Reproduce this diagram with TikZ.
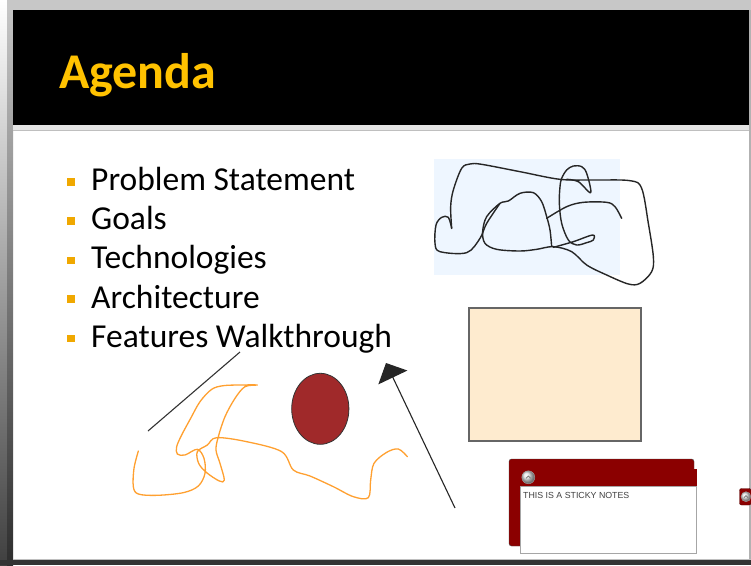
\documentclass[tikz,border=0pt]{standalone}
\usepackage{fontspec}
\setmainfont{Carlito}
\newfontfamily\notefont{Liberation Sans}
\usetikzlibrary{arrows.meta}
\definecolor{titlegold}{RGB}{255,194,0}
\definecolor{bulletgold}{RGB}{240,168,0}
\definecolor{skyfill}{RGB}{238,246,255}
\definecolor{peachfill}{RGB}{254,235,207}
\definecolor{ovalred}{RGB}{160,41,42}
\definecolor{inkorange}{RGB}{255,160,48}
\definecolor{notered}{RGB}{139,0,0}
\begin{document}
\begin{tikzpicture}[x=1pt,y=-1pt,
		item/.style={anchor=base west,inner sep=0pt,font=\fontsize{33.5}{40}\selectfont},
		bul/.style={fill=bulletgold},
		ink/.style={line width=1.4pt,line cap=round,line join=round},
		knob/.style={draw=gray!70,ball color=gray!25}]
				\useasboundingbox (0,0) rectangle (751,565);
				\fill[white] (0,0) rectangle (751,565);
				\shade[top color=white,bottom color=black!75] (0,0) rectangle (7,565);
				\shade[top color=black!22,bottom color=black!82] (7,0) rectangle (13,565);
				\fill[black!22] (7,0) rectangle (751,10);
				\fill[black] (13,10) rectangle (749,125);
				\fill[black!10] (13,125) rectangle (751,131);
				\draw[black!25] (13,130.5) -- (751,130.5);
				\fill[black!30] (749,10) rectangle (751,560);
				\draw[black!25] (13,559) -- (751,559);
				\fill[black!80] (0,560) rectangle (751,565);
				\node[anchor=base west,inner sep=0pt,text=titlegold,font=\fontsize{50}{60}\selectfont\bfseries] (title) at (59,88) {Agenda};
				\fill[bul] (67.3,178) rectangle (75,185.5);
				\fill[bul] (67.3,217) rectangle (75,224.5);
				\fill[bul] (67.3,256.5) rectangle (75,264);
				\fill[bul] (67.3,295) rectangle (75,302.5);
				\fill[bul] (67.3,334.5) rectangle (75,342);
				\node[item] (problem) at (91,190) {Problem Statement};
				\node[item] (goals) at (91,229.5) {Goals};
				\node[item] (tech) at (91,268.5) {Technologies};
				\node[item] (arch) at (91,308) {Architecture};
				\node[item] (walk) at (91,347) {Features Walkthrough};
				\fill[skyfill] (434,159) rectangle (620,275);
				\begin{scope}[shift={(420,140)},scale=1/3]
					\draw[ink,black!85] plot[smooth,tension=0.55] coordinates {(95,265) (92,200) (100,150) (125,85) (150,72) (185,73) (300,95) (420,118) (520,120) (630,122) (665,145) (685,250) (700,350) (695,395) (660,430) (625,432) (560,405) (500,375) (455,335) (400,320) (350,328) (300,333) (230,328) (195,310) (188,275) (200,230) (240,190) (265,183) (300,160) (340,158) (365,185) (380,230) (390,270) (395,320)};
					\draw[ink,black!85] plot[smooth,tension=0.55] coordinates {(380,235) (440,200) (490,187) (560,187) (585,200) (605,235)};
					\draw[ink,black!85] plot[smooth,tension=0.55] coordinates {(400,322) (460,305) (518,285) (520,300) (500,308) (470,315) (445,300) (425,250) (418,190) (420,140) (425,115) (440,90) (460,78) (485,80) (500,100) (512,158) (475,125) (440,118)};
					\draw[ink,black!85] plot[smooth,tension=0.55] coordinates {(95,265) (85,232) (65,232) (48,255) (45,310) (60,335) (140,338) (180,295) (200,250) (240,190)};
				\end{scope}
				\draw[fill=peachfill,draw=gray!80!black,line width=1.2pt] (469,308) rectangle (641,441);
				\draw[fill=ovalred,draw=black!80,line width=0.8pt] (320.3,408.8) ellipse [x radius=28.6,y radius=35.5];
				\begin{scope}[shift={(120,340)},scale=1/3]
					\draw[ink,inkorange,line width=1.3pt] plot[smooth,tension=0.55] coordinates {(55,333) (42,385) (40,440) (55,462) (110,466) (190,458) (235,438) (255,400) (252,355) (232,328) (195,345) (172,342) (170,320) (185,285) (212,235) (240,185) (275,148) (310,137) (360,135) (412,135) (375,140) (345,175) (315,230) (295,290) (288,330) (300,370) (313,420) (298,423) (260,398) (236,370) (232,335) (262,315) (290,293) (380,305) (485,335) (520,390) (570,408) (640,440) (700,470) (745,473) (752,420) (762,370) (800,337) (835,327) (862,350)};
				\end{scope}
				\coordinate (S1) at (148,431);
				\coordinate (S2) at (240,352);
				\draw[line width=1.1pt,black!80] (S1) -- (S2);
				\coordinate (T1) at (455,508);
				\coordinate (T2) at (386,363);
				\draw[line width=1.1pt,black!85,-{Triangle[length=16pt,width=32pt]}] (T1) -- (T2);
				\draw[fill=notered,draw=black!70,rounded corners=2.5pt] (509,459) rectangle (694,546);
				\fill[notered] (693,469) rectangle (697,486);
				\draw[fill=white,draw=black!35,line width=0.8pt] (520,486) rectangle (696,553);
				\draw[knob] (528.3,477.3) circle (6.5);
				\draw[black!55,line width=0.7pt] (526,478.3) -- (528.3,476) -- (530.6,478.3);
				\node[anchor=west,inner sep=0pt,text=black!75,font=\notefont\fontsize{8.8}{10}\selectfont] (note) at (523,495) {THIS IS A STICKY NOTES};
				\draw[fill=notered,draw=notered!60!black,rounded corners=2pt] (739.5,488.5) rectangle (751,505);
				\draw[knob] (746,496.7) circle (5);
				\draw[black!55,line width=0.7pt] (744,497.7) -- (746,495.7) -- (748,497.7);
\end{tikzpicture}
\end{document}
